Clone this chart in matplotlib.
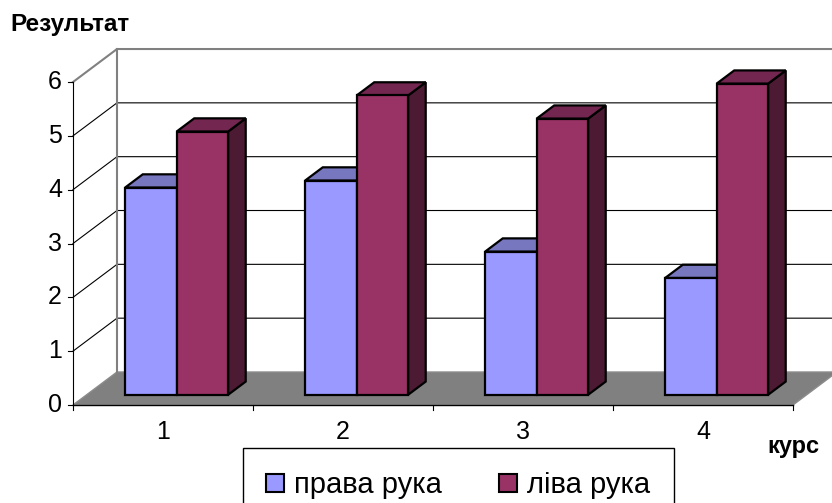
import matplotlib
matplotlib.use("Agg")
import matplotlib.pyplot as plt
from matplotlib.patches import Polygon, Patch

plt.rcParams['font.family'] = ['Liberation Sans', 'DejaVu Sans']

# Data
categories = ['1', '2', '3', '4']
right_hand = [3.85, 3.98, 2.66, 2.17]
left_hand = [4.89, 5.56, 5.13, 5.78]
series_names = ['права рука', 'ліва рука']
y_ticks = [0, 1, 2, 3, 4, 5, 6]

# Excel-like colours: front, top, side
blue_cols = ('#9999FF', '#7777C0', '#5C5C99')
red_cols = ('#993366', '#732650', '#4D1A33')

W, H = 832, 503
fig = plt.figure(figsize=(W / 100, H / 100), dpi=100)
ax = fig.add_axes([0, 0, 1, 1])
ax.axis('off')

# front plane: category units along x, values along y
x0_px, x_unit = 73, 180.0
y0_px, y_unit = 405, 53.83
ax.set_xlim(-x0_px / x_unit, (W - x0_px) / x_unit)
ax.set_ylim(-(H - y0_px) / y_unit, y0_px / y_unit)

# oblique depth offset of the back wall, in data units
DX = 44 / x_unit
DY = 33 / y_unit
n = len(categories)
ymax = y_ticks[-1]


def proj(x, y, d):
    return (x + DX * d, y + DY * d)


# floor
floor = Polygon([proj(0, 0, 0), proj(n, 0, 0), proj(n, 0, 1), proj(0, 0, 1)],
                closed=True, fc='#808080', ec='#8c8c8c', lw=1, zorder=1)
ax.add_patch(floor)
ax.plot([0, n], [0, 0], color='black', lw=1, zorder=2)

# back wall and side wall gridlines
for v in y_ticks[1:-1]:
    xs, ys = zip(proj(0, v, 0), proj(0, v, 1), proj(n, v, 1))
    ax.plot(xs, ys, color='black', lw=0.8, zorder=1)
xs, ys = zip(proj(0, ymax, 0), proj(0, ymax, 1), proj(n, ymax, 1))
ax.plot(xs, ys, color='#808080', lw=1.5, zorder=1)
xs, ys = zip(proj(0, 0, 1), proj(0, ymax, 1))
ax.plot(xs, ys, color='#808080', lw=1.5, zorder=1)

# value axis
ax.plot([0, 0], [0, ymax], color='black', lw=0.8, zorder=2)
for v in y_ticks:
    ax.plot([-5 / x_unit, 0], [v, v], color='black', lw=0.8, zorder=2)
    ax.text(-11 / x_unit, v, str(v), ha='right', va='center', fontsize=18)

# category axis ticks and labels
for i in range(n + 1):
    ax.plot([i, i], [0, -5 / y_unit], color='black', lw=0.8, zorder=2)
for i, cat in enumerate(categories):
    ax.text(i + 0.5, -27 / y_unit, cat, ha='center', va='center', fontsize=18)

# 3D bars
bar_w = 0.286
d0, d1 = 0.31, 0.71


def draw_box(xl, xr, v, cols, z):
    front = [proj(xl, 0, d0), proj(xr, 0, d0), proj(xr, v, d0), proj(xl, v, d0)]
    top = [proj(xl, v, d0), proj(xr, v, d0), proj(xr, v, d1), proj(xl, v, d1)]
    side = [proj(xr, 0, d0), proj(xr, 0, d1), proj(xr, v, d1), proj(xr, v, d0)]
    for pts, fc in ((side, cols[2]), (top, cols[1]), (front, cols[0])):
        ax.add_patch(Polygon(pts, closed=True, fc=fc, ec='black', lw=1.6,
                             joinstyle='miter', zorder=z))


z = 3
for i, (r, l) in enumerate(zip(right_hand, left_hand)):
    c = i + 0.5
    draw_box(c - bar_w, c, r, blue_cols, z)
    draw_box(c, c + bar_w, l, red_cols, z + 1)
    z += 2

# titles
fig.text(10 / W, 1 - 25 / H, 'Результат', fontsize=17.5, fontweight='bold',
         ha='left', va='center')
fig.text(767 / W, 1 - 447 / H, 'курс', fontsize=17, fontweight='bold',
         ha='left', va='center')

# legend
handles = [Patch(fc=blue_cols[0], ec='black', lw=1.5),
           Patch(fc=red_cols[0], ec='black', lw=1.5)]
leg = fig.legend(handles, series_names, loc='upper left',
                 bbox_to_anchor=(243 / W, 1 - 448 / H), ncol=2, fontsize=21,
                 frameon=True, fancybox=False, edgecolor='black', framealpha=1,
                 borderpad=0.8, handlelength=0.62, handleheight=0.55,
                 handletextpad=0.34, columnspacing=1.95, borderaxespad=0)
leg.get_frame().set_linewidth(1.0)

fig.savefig('out.png', dpi=100)
